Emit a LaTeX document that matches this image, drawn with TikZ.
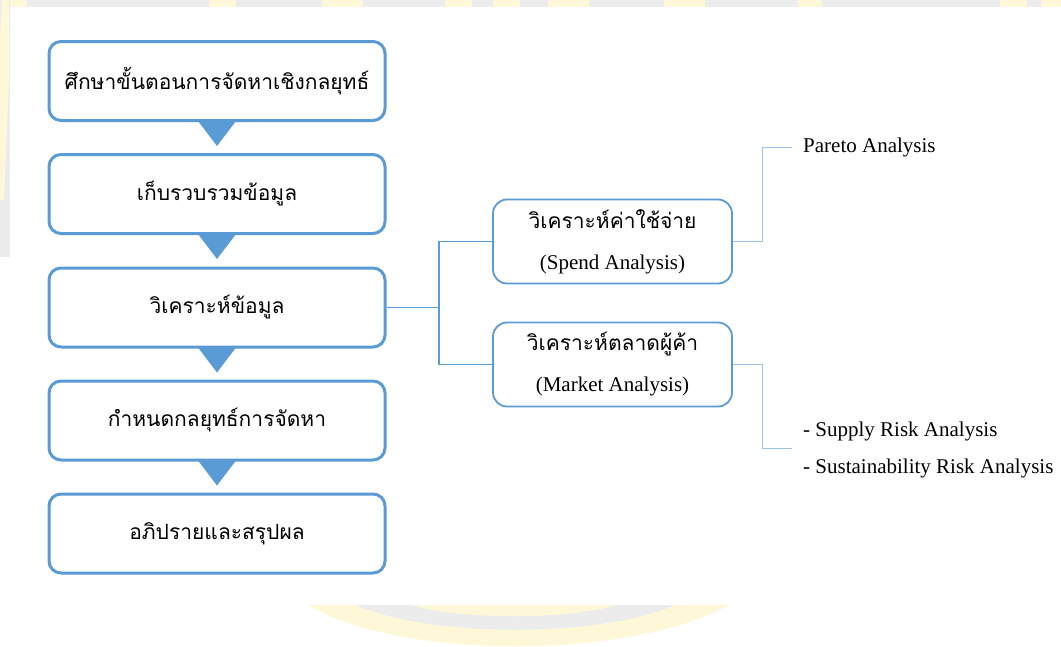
\documentclass[tikz,border=0pt]{standalone}
\usepackage{fontspec}
\setmainfont{Liberation Serif}
\newfontfamily\thaifont[Script=Thai]{Loma}
\usetikzlibrary{calc}
\definecolor{bblue}{HTML}{5B9BD5}
\definecolor{lblue}{HTML}{9DC3E6}
\definecolor{wmgray}{HTML}{EBECEB}
\definecolor{wmyel}{HTML}{FFF8D8}
\begin{document}
\begin{tikzpicture}[x=1pt,y=-1pt,
  stepbox/.style={draw=bblue, line width=3pt, rounded corners=12pt,
    minimum width=336pt, minimum height=79pt, inner sep=0pt,
    font=\thaifont\fontsize{21}{25}\selectfont},
  subbox/.style={draw=bblue, line width=1.8pt, rounded corners=14pt,
    minimum width=239pt, minimum height=84pt, inner sep=0pt, align=center,
    font=\fontsize{21}{41}\selectfont},
  tri/.style={fill=bblue},
  link/.style={draw=bblue, line width=1.3pt},
  leaf/.style={draw=lblue, line width=1pt},
  lbl/.style={anchor=west, inner sep=0pt, font=\fontsize{21}{25}\selectfont}]
\useasboundingbox (0,0) rectangle (1061,646);
% faint watermark background
\fill[white] (0,0) rectangle (1061,646);
\fill[wmgray] (0,0) rectangle (1061,7);
\fill[wmgray] (0,0) rectangle (10,257);
\fill[wmyel] (2,0) -- (9,0) -- (9,80) -- (4,200) -- (0,200) -- (0,40) -- cycle;
\foreach \a/\b in {10/27,209/236,322/363,445/472,493/520,548/589,664/705,798/822,1000/1027,1041/1061}
  \fill[wmyel] (\a,0) rectangle (\b,7);
\fill[wmyel] (308,605) .. controls (400,660) and (630,660) .. (729,605) -- cycle;
\fill[wmgray] (356,605) .. controls (430,638) and (600,638) .. (675,605) -- cycle;
\fill[wmyel] (411,605) .. controls (460,620) and (570,620) .. (616,605) -- cycle;
\fill[white] (10,7) rectangle (1061,605);
% main steps
\node[stepbox] (b1) at (217,81) {ศึกษาขั้นตอนการจัดหาเชิงกลยุทธ์};
\node[stepbox] (b2) at (217,194) {เก็บรวบรวมข้อมูล};
\node[stepbox] (b3) at (217,307.5) {วิเคราะห์ข้อมูล};
\node[stepbox] (b4) at (217,420.5) {กำหนดกลยุทธ์การจัดหา};
\node[stepbox] (b5) at (217,533.5) {อภิปรายและสรุปผล};
\foreach \n in {b1,b2,b3,b4}
  \fill[tri] ($(\n.south)+(-19,-1)$) -- ($(\n.south)+(19,-1)$) -- ($(\n.south)+(0,24)$) -- cycle;
% analysis boxes
\node[subbox] (spend) at (612.5,241.5) {{\thaifont วิเคราะห์ค่าใช้จ่าย}\\(Spend Analysis)};
\node[subbox] (market) at (612.5,364.5) {{\thaifont วิเคราะห์ตลาดผู้ค้า}\\(Market Analysis)};
\coordinate (j) at (439,307.5);
\draw[link] (b3.east) -- (j);
\draw[link] (spend.west) -| (j);
\draw[link] (market.west) -| (j);
% leaves
\node[lbl] (pareto) at (803,147) {Pareto Analysis};
\node[lbl] (supply) at (803,431) {- Supply Risk Analysis};
\node[lbl] (sustain) at (803,468) {- Sustainability Risk Analysis};
\coordinate (pe) at (792,147);
\coordinate (re) at (792,448);
\draw[leaf] (spend.east) -- ++(30,0) |- (pe);
\draw[leaf] (market.east) -- ++(30,0) |- (re);
\end{tikzpicture}
\end{document}
